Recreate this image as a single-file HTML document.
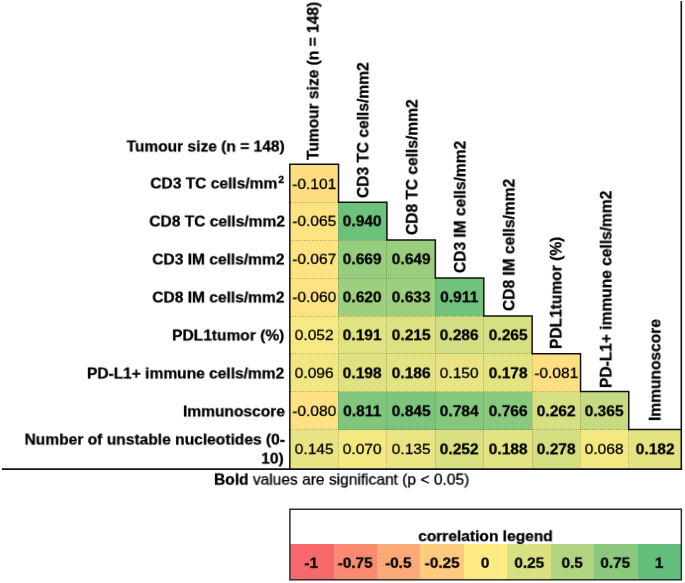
<!DOCTYPE html><html><head><meta charset="utf-8"><title>Correlation matrix</title><style>
html,body{margin:0;padding:0;background:#fff}
body{width:685px;height:583px;position:relative;overflow:hidden;font-family:"Liberation Sans",sans-serif;font-size:15.7px;color:#000;-webkit-text-stroke:0.3px #000}
.c{position:absolute;transform:translateY(0.7px) scale(0.9904,0.86);display:flex;align-items:center;justify-content:center;white-space:nowrap;box-sizing:border-box}
.b{font-weight:bold}
.c.b{transform:translateY(0.7px) scale(0.9904,0.895)}
.l{position:absolute;background:#111}
.rl{position:absolute;transform-origin:100% 50%;transform:translateY(0px) scale(0.9904,0.905);text-align:right;font-weight:bold;white-space:nowrap;line-height:20.6px}
.rl sup{font-size:10.5px;vertical-align:baseline;position:relative;top:-6px;margin-left:1px}
.ch{position:absolute;font-weight:bold;white-space:nowrap;transform-origin:0 0;transform:rotate(-90deg) scale(0.9904,0.955);line-height:1}
.g{position:absolute}
.bg{position:absolute}
.ov{position:absolute;left:0;top:0;pointer-events:none}
.c.b.lg{transform:translateY(0.6px) scale(0.975,0.85)}
.c,.rl,.ch,.cap{will-change:transform}

</style></head><body>
<div class="bg" style="left:290px;top:164px;width:48px;height:38px;background:#fede81"></div>
<div class="bg" style="left:290px;top:202px;width:48px;height:38px;background:#ffe382"></div>
<div class="bg" style="left:338px;top:202px;width:49px;height:38px;background:#6cc17c"></div>
<div class="bg" style="left:290px;top:240px;width:48px;height:38px;background:#ffe282"></div>
<div class="bg" style="left:338px;top:240px;width:49px;height:38px;background:#97cd7e"></div>
<div class="bg" style="left:387px;top:240px;width:48px;height:38px;background:#9ace7e"></div>
<div class="bg" style="left:290px;top:278px;width:48px;height:38px;background:#ffe382"></div>
<div class="bg" style="left:338px;top:278px;width:49px;height:38px;background:#9ecf7e"></div>
<div class="bg" style="left:387px;top:278px;width:48px;height:38px;background:#9ccf7e"></div>
<div class="bg" style="left:435px;top:278px;width:49px;height:38px;background:#71c27c"></div>
<div class="bg" style="left:290px;top:316px;width:48px;height:38px;background:#f7e984"></div>
<div class="bg" style="left:338px;top:316px;width:49px;height:38px;background:#e1e282"></div>
<div class="bg" style="left:387px;top:316px;width:48px;height:38px;background:#dde182"></div>
<div class="bg" style="left:435px;top:316px;width:49px;height:38px;background:#d2de81"></div>
<div class="bg" style="left:484px;top:316px;width:48px;height:38px;background:#d6df82"></div>
<div class="bg" style="left:290px;top:354px;width:48px;height:38px;background:#f0e783"></div>
<div class="bg" style="left:338px;top:354px;width:49px;height:38px;background:#e0e282"></div>
<div class="bg" style="left:387px;top:354px;width:48px;height:38px;background:#e2e382"></div>
<div class="bg" style="left:435px;top:354px;width:49px;height:38px;background:#e8e483"></div>
<div class="bg" style="left:484px;top:354px;width:48px;height:38px;background:#e3e382"></div>
<div class="bg" style="left:532px;top:354px;width:48px;height:38px;background:#fee082"></div>
<div class="bg" style="left:290px;top:392px;width:48px;height:38px;background:#fee182"></div>
<div class="bg" style="left:338px;top:392px;width:49px;height:38px;background:#80c77d"></div>
<div class="bg" style="left:387px;top:392px;width:48px;height:38px;background:#7bc57c"></div>
<div class="bg" style="left:435px;top:392px;width:49px;height:38px;background:#85c87d"></div>
<div class="bg" style="left:484px;top:392px;width:48px;height:38px;background:#88c97d"></div>
<div class="bg" style="left:532px;top:392px;width:48px;height:38px;background:#d6df82"></div>
<div class="bg" style="left:580px;top:392px;width:49px;height:38px;background:#c6db81"></div>
<div class="bg" style="left:290px;top:430px;width:48px;height:38px;background:#e8e483"></div>
<div class="bg" style="left:338px;top:430px;width:49px;height:38px;background:#f4e883"></div>
<div class="bg" style="left:387px;top:430px;width:48px;height:38px;background:#eae583"></div>
<div class="bg" style="left:435px;top:430px;width:49px;height:38px;background:#d8e082"></div>
<div class="bg" style="left:484px;top:430px;width:48px;height:38px;background:#e2e382"></div>
<div class="bg" style="left:532px;top:430px;width:48px;height:38px;background:#d4de81"></div>
<div class="bg" style="left:580px;top:430px;width:49px;height:38px;background:#f4e883"></div>
<div class="bg" style="left:629px;top:430px;width:52px;height:38px;background:#e3e382"></div>
<div class="c" style="left:290.0px;top:164.5px;width:48.4px;height:37.9px">-0.101</div>
<div class="c" style="left:290.0px;top:202.4px;width:48.4px;height:37.9px">-0.065</div>
<div class="c b" style="left:338.4px;top:202.4px;width:48.4px;height:37.9px">0.940</div>
<div class="c" style="left:290.0px;top:240.3px;width:48.4px;height:37.9px">-0.067</div>
<div class="c b" style="left:338.4px;top:240.3px;width:48.4px;height:37.9px">0.669</div>
<div class="c b" style="left:386.8px;top:240.3px;width:48.4px;height:37.9px">0.649</div>
<div class="c" style="left:290.0px;top:278.2px;width:48.4px;height:37.9px">-0.060</div>
<div class="c b" style="left:338.4px;top:278.2px;width:48.4px;height:37.9px">0.620</div>
<div class="c b" style="left:386.8px;top:278.2px;width:48.4px;height:37.9px">0.633</div>
<div class="c b" style="left:435.2px;top:278.2px;width:48.4px;height:37.9px">0.911</div>
<div class="c" style="left:290.0px;top:316.1px;width:48.4px;height:37.8px">0.052</div>
<div class="c b" style="left:338.4px;top:316.1px;width:48.4px;height:37.8px">0.191</div>
<div class="c b" style="left:386.8px;top:316.1px;width:48.4px;height:37.8px">0.215</div>
<div class="c b" style="left:435.2px;top:316.1px;width:48.4px;height:37.8px">0.286</div>
<div class="c b" style="left:483.6px;top:316.1px;width:48.4px;height:37.8px">0.265</div>
<div class="c" style="left:290.0px;top:353.9px;width:48.4px;height:37.9px">0.096</div>
<div class="c b" style="left:338.4px;top:353.9px;width:48.4px;height:37.9px">0.198</div>
<div class="c b" style="left:386.8px;top:353.9px;width:48.4px;height:37.9px">0.186</div>
<div class="c" style="left:435.2px;top:353.9px;width:48.4px;height:37.9px">0.150</div>
<div class="c b" style="left:483.6px;top:353.9px;width:48.4px;height:37.9px">0.178</div>
<div class="c" style="left:532.0px;top:353.9px;width:48.4px;height:37.9px">-0.081</div>
<div class="c" style="left:290.0px;top:391.8px;width:48.4px;height:37.9px">-0.080</div>
<div class="c b" style="left:338.4px;top:391.8px;width:48.4px;height:37.9px">0.811</div>
<div class="c b" style="left:386.8px;top:391.8px;width:48.4px;height:37.9px">0.845</div>
<div class="c b" style="left:435.2px;top:391.8px;width:48.4px;height:37.9px">0.784</div>
<div class="c b" style="left:483.6px;top:391.8px;width:48.4px;height:37.9px">0.766</div>
<div class="c b" style="left:532.0px;top:391.8px;width:48.4px;height:37.9px">0.262</div>
<div class="c b" style="left:580.4px;top:391.8px;width:48.2px;height:37.9px">0.365</div>
<div class="c" style="left:290.0px;top:429.7px;width:48.4px;height:38.7px">0.145</div>
<div class="c" style="left:338.4px;top:429.7px;width:48.4px;height:38.7px">0.070</div>
<div class="c" style="left:386.8px;top:429.7px;width:48.4px;height:38.7px">0.135</div>
<div class="c b" style="left:435.2px;top:429.7px;width:48.4px;height:38.7px">0.252</div>
<div class="c b" style="left:483.6px;top:429.7px;width:48.4px;height:38.7px">0.188</div>
<div class="c b" style="left:532.0px;top:429.7px;width:48.4px;height:38.7px">0.278</div>
<div class="c" style="left:580.4px;top:429.7px;width:48.2px;height:38.7px">0.068</div>
<div class="c b" style="left:628.6px;top:429.7px;width:52.4px;height:38.7px">0.182</div>
<div class="g" style="left:290.0px;top:201.9px;width:48.4px;border-top:1px dotted rgba(70,70,30,.34)"></div>
<div class="g" style="left:290.0px;top:239.8px;width:96.8px;border-top:1px dotted rgba(70,70,30,.34)"></div>
<div class="g" style="left:290.0px;top:277.7px;width:145.2px;border-top:1px dotted rgba(70,70,30,.34)"></div>
<div class="g" style="left:290.0px;top:315.6px;width:193.6px;border-top:1px dotted rgba(70,70,30,.34)"></div>
<div class="g" style="left:290.0px;top:353.4px;width:242.0px;border-top:1px dotted rgba(70,70,30,.34)"></div>
<div class="g" style="left:290.0px;top:391.3px;width:290.4px;border-top:1px dotted rgba(70,70,30,.34)"></div>
<div class="g" style="left:290.0px;top:429.2px;width:338.6px;border-top:1px dotted rgba(70,70,30,.34)"></div>
<div class="g" style="left:337.9px;top:202.4px;height:266.0px;border-left:1px dotted rgba(70,70,30,.34)"></div>
<div class="g" style="left:386.3px;top:240.3px;height:228.1px;border-left:1px dotted rgba(70,70,30,.34)"></div>
<div class="g" style="left:434.7px;top:278.2px;height:190.2px;border-left:1px dotted rgba(70,70,30,.34)"></div>
<div class="g" style="left:483.1px;top:316.1px;height:152.3px;border-left:1px dotted rgba(70,70,30,.34)"></div>
<div class="g" style="left:531.5px;top:353.9px;height:114.5px;border-left:1px dotted rgba(70,70,30,.34)"></div>
<div class="g" style="left:579.9px;top:391.8px;height:76.6px;border-left:1px dotted rgba(70,70,30,.34)"></div>
<div class="g" style="left:628.1px;top:429.7px;height:38.7px;border-left:1px dotted rgba(70,70,30,.34)"></div>
<div class="rl" style="right:400.5px;top:126.6px;height:38.5px;line-height:40.0px">Tumour size (n = 148)</div>
<div class="rl" style="right:400.5px;top:163.7px;height:37.9px;line-height:39.4px">CD3 TC cells/mm<sup>2</sup></div>
<div class="rl" style="right:400.5px;top:202.4px;height:37.9px;line-height:39.4px">CD8 TC cells/mm2</div>
<div class="rl" style="right:400.5px;top:240.3px;height:37.9px;line-height:39.4px">CD3 IM cells/mm2</div>
<div class="rl" style="right:400.5px;top:278.2px;height:37.9px;line-height:39.4px">CD8 IM cells/mm2</div>
<div class="rl" style="right:400.5px;top:316.1px;height:37.8px;line-height:39.3px">PDL1tumor (%)</div>
<div class="rl" style="right:400.5px;top:353.9px;height:37.9px;line-height:39.4px">PD-L1+ immune cells/mm2</div>
<div class="rl" style="right:400.5px;top:391.8px;height:37.9px;line-height:39.4px">Immunoscore</div>
<div class="rl" style="right:399.5px;top:429.4px"><span style="letter-spacing:0.02px">Number of unstable nucleotides (0-</span><br><span style="margin-right:1.3px">10)</span></div>
<div class="ch" style="left:305.3px;top:159.6px;height:18.0px;line-height:18.0px">Tumour size (n = 148)</div>
<div class="ch" style="left:354.5px;top:197.8px;height:18.0px;line-height:18.0px">CD3 TC cells/mm2</div>
<div class="ch" style="left:403.6px;top:234.8px;height:18.0px;line-height:18.0px">CD8 TC cells/mm2</div>
<div class="ch" style="left:452.3px;top:272.8px;height:18.0px;line-height:18.0px">CD3 IM cells/mm2</div>
<div class="ch" style="left:500.6px;top:310.6px;height:18.0px;line-height:18.0px">CD8 IM cells/mm2</div>
<div class="ch" style="left:548.1px;top:349.3px;height:18.0px;line-height:18.0px">PDL1tumor (%)</div>
<div class="ch" style="left:597.5px;top:387.5px;height:18.0px;line-height:18.0px">PD-L1+ immune cells/mm2</div>
<div class="ch" style="left:646.8px;top:421.4px;height:18.0px;line-height:18.0px">Immunoscore</div>
<div class="cap" style="position:absolute;transform-origin:0 50%;transform:translateY(0px) scale(0.9904,0.925);left:213.8px;top:470.9px;white-space:nowrap;line-height:18px"><b>Bold</b> values are significant (p &lt; 0.05)</div>
<div class="bg" style="left:290px;top:544px;width:44px;height:36px;background:#f8696b"></div>
<div class="c b lg" style="left:290.3px;top:544.2px;width:43.4px;height:36.6px;padding-top:2.2px;padding-right:1px">-1</div>
<div class="bg" style="left:334px;top:544px;width:43px;height:36px;background:#fa8a71"></div>
<div class="c b lg" style="left:333.7px;top:544.2px;width:43.4px;height:36.6px;padding-top:2.2px;padding-right:1px">-0.75</div>
<div class="bg" style="left:377px;top:544px;width:43px;height:36px;background:#fcaa78"></div>
<div class="c b lg" style="left:377.2px;top:544.2px;width:43.4px;height:36.6px;padding-top:2.2px;padding-right:1px">-0.5</div>
<div class="bg" style="left:420px;top:544px;width:44px;height:36px;background:#fdca7e"></div>
<div class="c b lg" style="left:420.6px;top:544.2px;width:43.4px;height:36.6px;padding-top:2.2px;padding-right:1px">-0.25</div>
<div class="bg" style="left:464px;top:544px;width:43px;height:36px;background:#ffeb84"></div>
<div class="c b lg" style="left:464.0px;top:544.2px;width:43.4px;height:36.6px;padding-top:2.2px;padding-right:1px">0</div>
<div class="bg" style="left:507px;top:544px;width:44px;height:36px;background:#d8e082"></div>
<div class="c b lg" style="left:507.5px;top:544.2px;width:43.4px;height:36.6px;padding-top:2.2px;padding-right:1px">0.25</div>
<div class="bg" style="left:551px;top:544px;width:43px;height:36px;background:#b1d480"></div>
<div class="c b lg" style="left:550.9px;top:544.2px;width:43.4px;height:36.6px;padding-top:2.2px;padding-right:1px">0.5</div>
<div class="bg" style="left:594px;top:544px;width:44px;height:36px;background:#8ac97d"></div>
<div class="c b lg" style="left:594.3px;top:544.2px;width:43.4px;height:36.6px;padding-top:2.2px;padding-right:1px">0.75</div>
<div class="bg" style="left:638px;top:544px;width:43px;height:36px;background:#63be7b"></div>
<div class="c b lg" style="left:637.8px;top:544.2px;width:43.4px;height:36.6px;padding-top:2.2px;padding-right:1px">1</div>
<div class="c b" style="left:290.3px;top:526.5px;width:390.9px;height:18.0px">correlation legend</div>
<svg class="ov" width="685" height="583" viewBox="0 0 685 583" shape-rendering="geometricPrecision"><path d="M289.83 469.20 L289.83 164.30 L338.55 164.30 L338.55 202.20 L386.95 202.20 L386.95 240.10 L435.35 240.10 L435.35 278.00 L483.75 278.00 L483.75 315.90 L532.15 315.90 L532.15 353.70 L580.55 353.70 L580.55 391.60 L628.75 391.60 L628.75 429.50 L681.30 429.50" fill="none" stroke="#111" stroke-width="1.50" stroke-linejoin="miter"/><path d="M681.30 1 L681.30 470.10" fill="none" stroke="#111" stroke-width="1.6"/><path d="M2 469.20 L682.10 469.20" fill="none" stroke="#111" stroke-width="1.8"/><rect x="289.9" y="509.25" width="391.45" height="70.55" fill="none" stroke="#2e2e2e" stroke-width="1.5"/></svg>
</body></html>
